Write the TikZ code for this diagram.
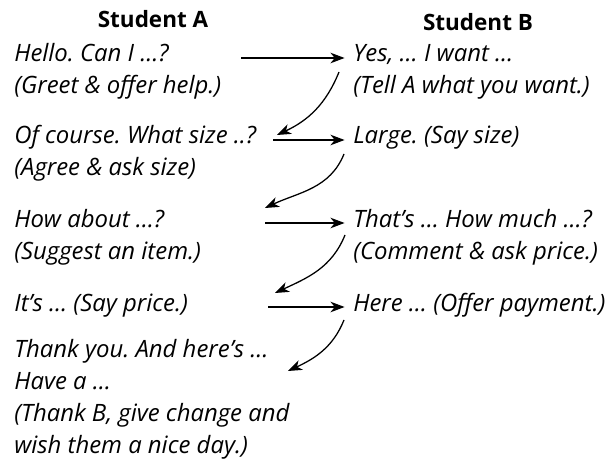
\documentclass[tikz,border=0pt]{standalone}
\usepackage{fontspec}
\setmainfont{Open Sans}
\usetikzlibrary{arrows.meta}
\frenchspacing

\tikzset{
    turn/.style={anchor=north west, align=left, inner sep=0pt,
        font=\itshape\fontsize{17}{22.75}\selectfont},
    head/.style={anchor=base, inner sep=0pt, font=\bfseries\fontsize{16}{19}\selectfont},
    reply/.style={-{Stealth[length=10pt,width=7.5pt,inset=3pt]}, line width=0.9pt},
}

\begin{document}
\begin{tikzpicture}
        \useasboundingbox (0,0) rectangle (15.325,11.575);
        % Draw column headings
        \node[head] (headA) at (3.825,10.875) {Student A};
        \node[head] (headB) at (11.95,10.8) {Student B};
        % Draw what student A says
        \node[turn] (a1) at (0.35,10.61) {\strut Hello. Can I \dots?\\\strut(Greet \& offer help.)};
        \node[turn] (a2) at (0.35,8.56) {\strut Of course. What size ..?\\\strut(Agree \& ask size)};
        \node[turn] (a3) at (0.35,6.46) {\strut How about \dots?\\\strut(Suggest an item.)};
        \node[turn] (a4) at (0.35,4.36) {\strut It’s \dots{} (Say price.)};
        \node[turn] (a5) at (0.35,3.21) {\strut Thank you. And here’s \dots\\\strut Have a \dots\\\strut(Thank B, give change and\\\strut wish them a nice day.)};
        % Draw what student B says
        \node[turn] (b1) at (8.825,10.61) {\strut Yes, \dots{} I want \dots\\\strut(Tell A what you want.)};
        \node[turn] (b2) at (8.825,8.56) {\strut Large. (Say size)};
        \node[turn] (b3) at (8.825,6.46) {\strut That’s \dots{} How much \dots?\\\strut(Comment \& ask price.)};
        \node[turn] (b4) at (8.825,4.36) {\strut Here \dots{} (Offer payment.)};
        % Ends of the arrows
        \coordinate (a1out) at (6.025,10.125);
        \coordinate (a2out) at (6.825,8.075);
        \coordinate (a3out) at (6.625,6.0);
        \coordinate (a4out) at (6.7,3.9);
        \coordinate (b1out) at (8.475,9.775);
        \coordinate (b2out) at (8.6,7.725);
        \coordinate (b3out) at (8.625,5.7);
        \coordinate (b4out) at (8.6,3.575);
        \coordinate (a2in) at (6.925,8.2);
        \coordinate (a3in) at (6.625,6.375);
        \coordinate (a4in) at (6.875,4.25);
        \coordinate (a5in) at (7.2,2.3);
        % Draw arrows from A to B
        \draw[reply,shorten >=6pt] (a1out) -- (a1out -| b1.west);
        \draw[reply,shorten >=6pt] (a2out) -- (a2out -| b2.west);
        \draw[reply,shorten >=6pt] (a3out) -- (a3out -| b3.west);
        \draw[reply,shorten >=6pt] (a4out) -- (a4out -| b4.west);
        % Draw arrows from B back to A
        \draw[reply] (b1out) to[out=-112,in=25] (a2in);
        \draw[reply] (b2out) to[out=-112,in=25] (a3in);
        \draw[reply] (b3out) to[out=-112,in=25] (a4in);
        \draw[reply] (b4out) to[out=-112,in=25] (a5in);
    \end{tikzpicture}
\end{document}
